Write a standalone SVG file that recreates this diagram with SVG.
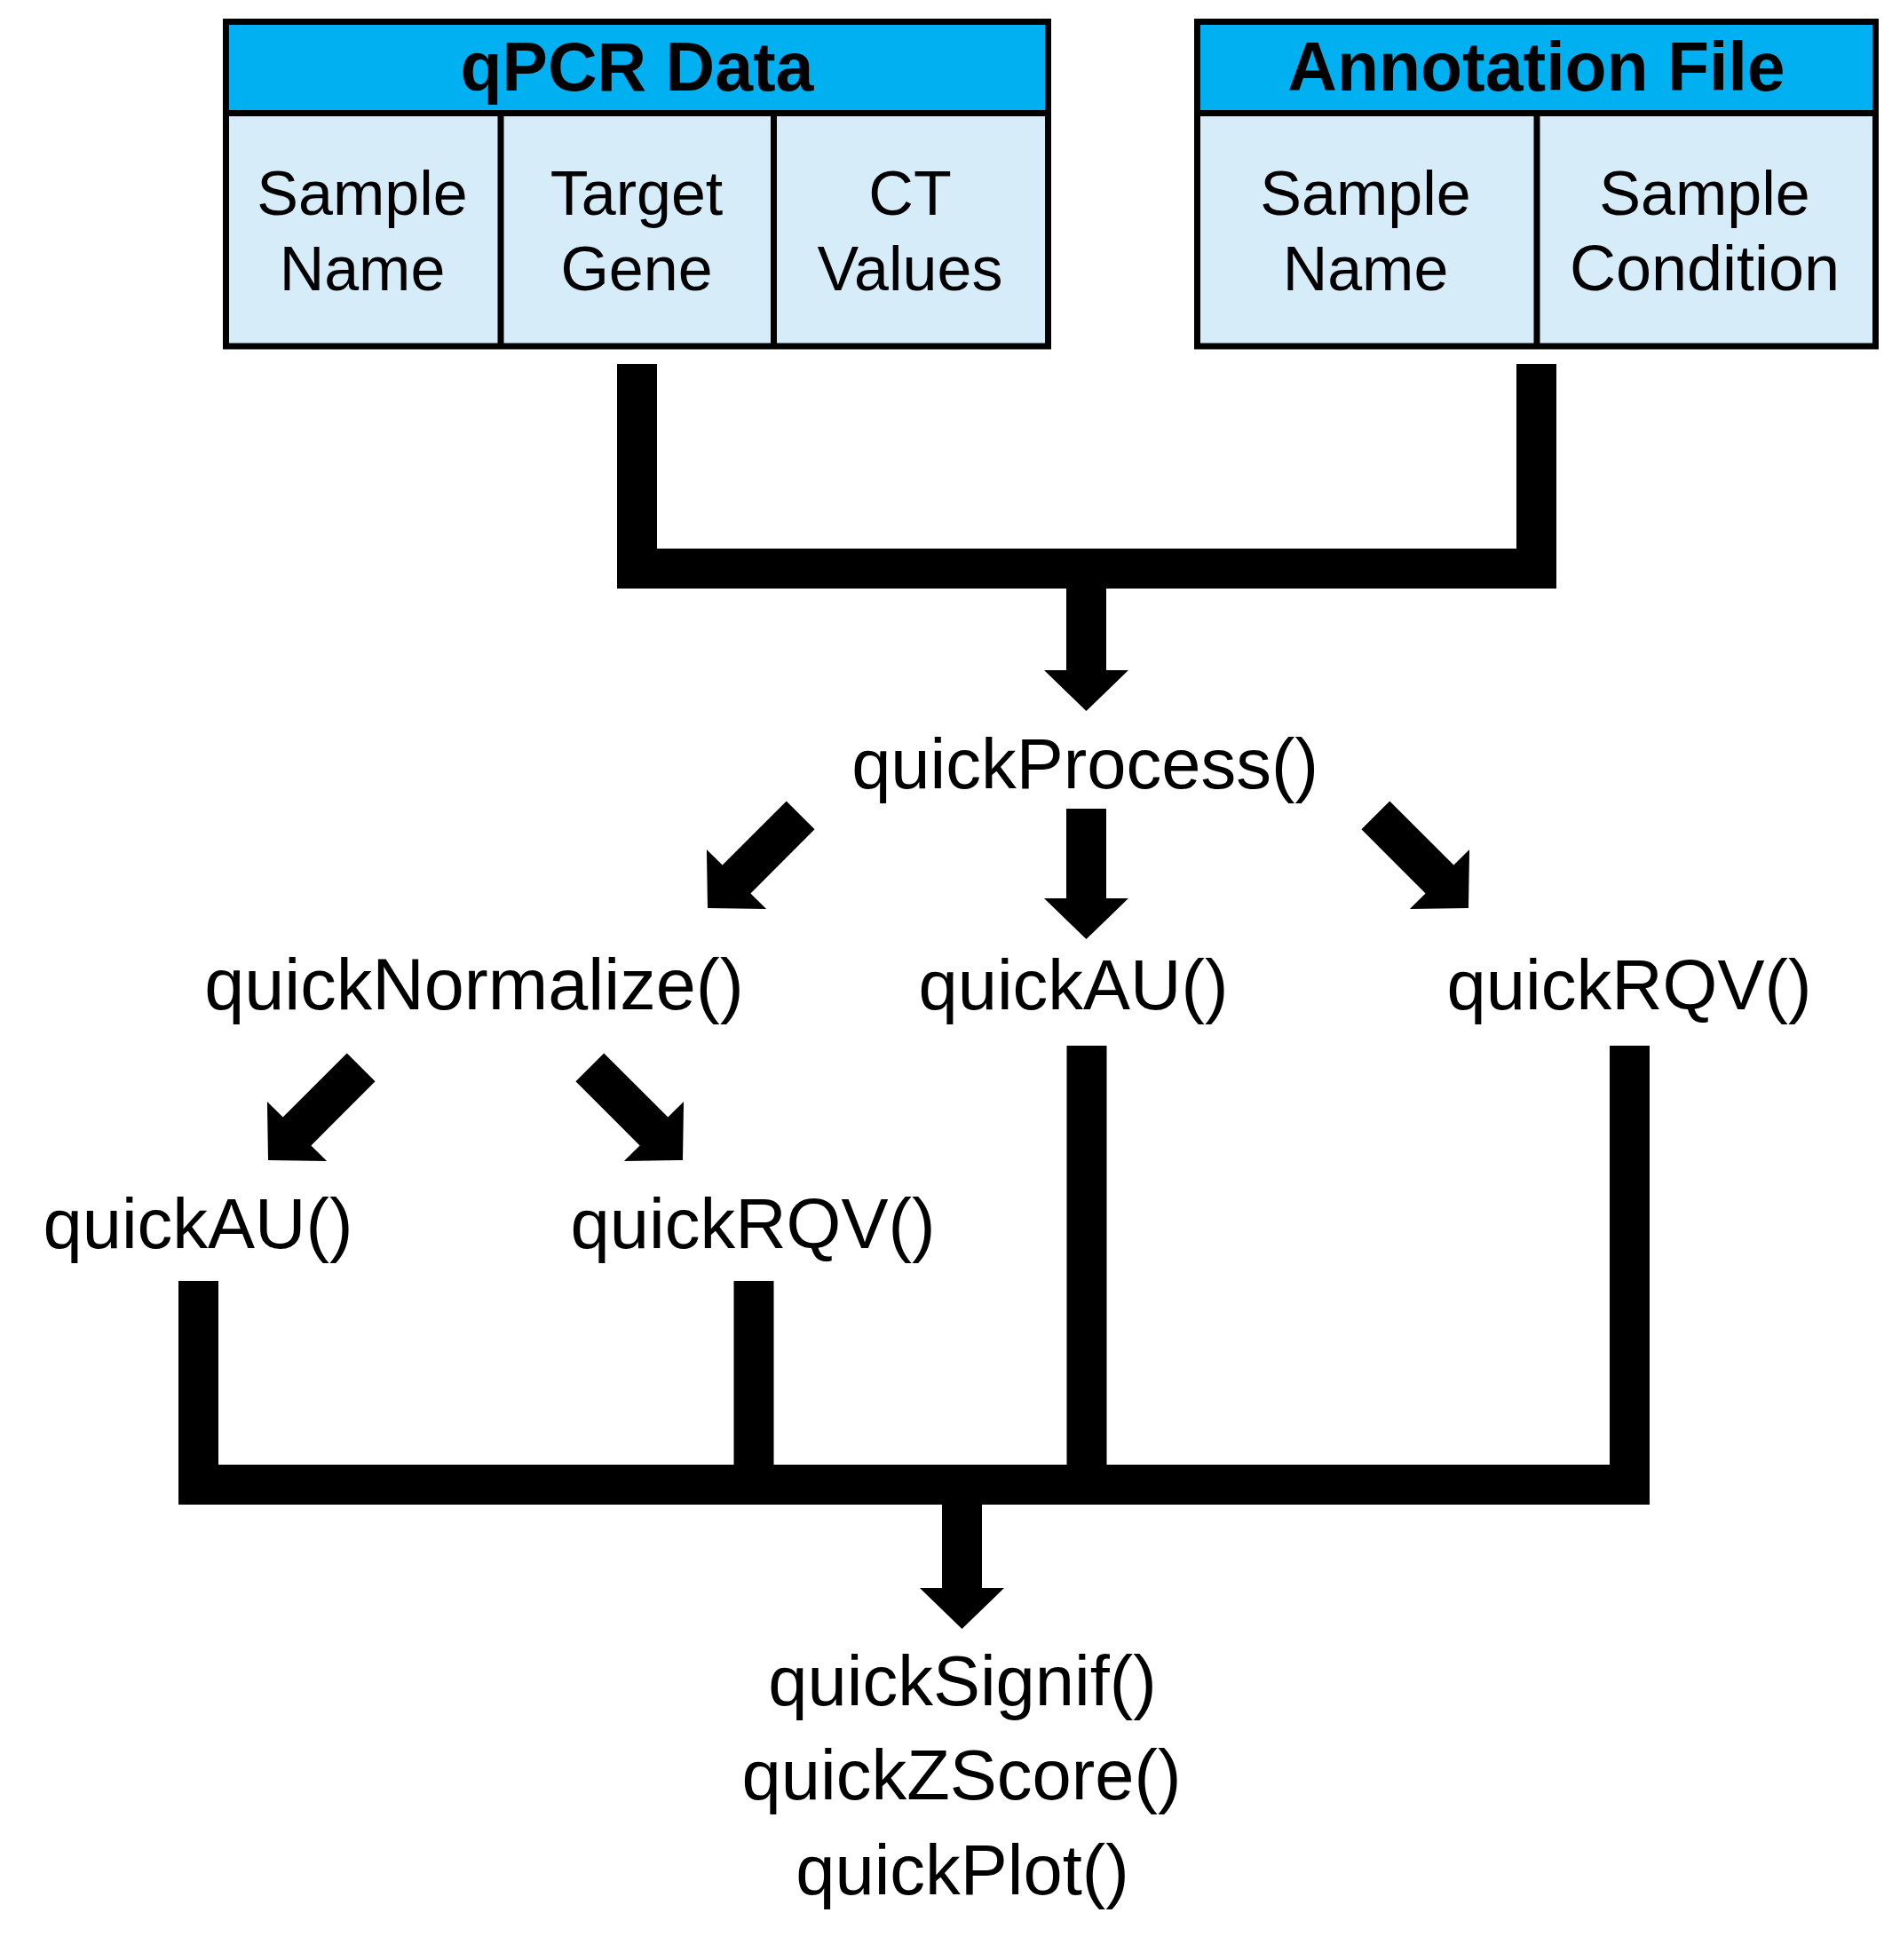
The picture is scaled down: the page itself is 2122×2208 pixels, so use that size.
<svg xmlns="http://www.w3.org/2000/svg" xmlns:xlink="http://www.w3.org/1999/xlink" width="2122" height="2208" viewBox="0 0 2122 2208">
<style>
.hdr{fill:#00B0F0;}
.cell{fill:#D6ECF8;}
.frame{fill:none;stroke:#000;stroke-width:7;}
.div{stroke:#000;stroke-width:7;}
.title{font-family:"Liberation Sans",Arial,sans-serif;font-weight:bold;font-size:77px;fill:#000;text-anchor:middle;}
.ctext{font-family:"Liberation Sans",Arial,sans-serif;font-size:70px;fill:#000;text-anchor:middle;}
.fn{font-family:"Liberation Sans",Arial,sans-serif;font-size:79.5px;fill:#000;text-anchor:middle;}
.bar{fill:none;stroke:#000;stroke-width:45;stroke-linejoin:miter;stroke-linecap:butt;}
.arr{fill:#000;}
</style>
<defs>
<path id="diag" d="M-22.5,-148 L22.5,-148 L22.5,-46 L47.5,-46 L0,0 L-47.5,-46 L-22.5,-46 Z"/>
</defs>
<rect x="0" y="0" width="2122" height="2208" fill="#fff"/>

<g id="qpcr-data">
<rect class="hdr" x="254.5" y="24.5" width="926" height="103"/>
<rect class="cell" x="254.5" y="127.5" width="926" height="262.5"/>
<line class="div" x1="254.5" y1="127.5" x2="1180.5" y2="127.5"/>
<line class="div" x1="564" y1="127.5" x2="564" y2="390"/>
<line class="div" x1="871.5" y1="127.5" x2="871.5" y2="390"/>
<rect class="frame" x="254.5" y="24.5" width="926" height="365.5"/>
<text class="title" x="717.5" y="102">qPCR Data</text>
<text class="ctext" x="408" y="242">Sample</text>
<text class="ctext" x="408" y="327">Name</text>
<text class="ctext" x="717" y="242">Target</text>
<text class="ctext" x="717" y="327">Gene</text>
<text class="ctext" x="1025" y="242">CT</text>
<text class="ctext" x="1025" y="327">Values</text>
</g>

<g id="annotation-file">
<rect class="hdr" x="1348.5" y="24.5" width="764" height="103"/>
<rect class="cell" x="1348.5" y="127.5" width="764" height="262.5"/>
<line class="div" x1="1348.5" y1="127.5" x2="2112.5" y2="127.5"/>
<line class="div" x1="1731" y1="127.5" x2="1731" y2="390"/>
<rect class="frame" x="1348.5" y="24.5" width="764" height="365.5"/>
<text class="title" x="1730.5" y="102">Annotation File</text>
<text class="ctext" x="1538" y="242">Sample</text>
<text class="ctext" x="1538" y="327">Name</text>
<text class="ctext" x="1920" y="242">Sample</text>
<text class="ctext" x="1920" y="327" style="font-size:72px">Condition</text>
</g>

<g id="quickProcess"><text class="fn" x="1222" y="888">quickProcess()</text></g>
<g id="quickNormalize"><text class="fn" x="534" y="1137" style="font-size:81px">quickNormalize()</text></g>
<g id="quickAU-main"><text class="fn" x="1209" y="1137">quickAU()</text></g>
<g id="quickRQV-main"><text class="fn" x="1835" y="1137">quickRQV()</text></g>
<g id="quickAU-norm"><text class="fn" x="223" y="1406">quickAU()</text></g>
<g id="quickRQV-norm"><text class="fn" x="848" y="1406">quickRQV()</text></g>
<g id="downstream">
<text class="fn" x="1084" y="1921">quickSignif()</text>
<text class="fn" x="1083" y="2027">quickZScore()</text>
<text class="fn" x="1084" y="2134">quickPlot()</text>
</g>

<g id="connectors">
<path class="bar" d="M717.5,410 V640.5 H1730.5 V410"/>
<path class="arr" d="M1201,640 H1246 V755 H1271 L1223.5,801 L1176,755 H1201 Z"/>
<path class="arr" d="M1201,911 H1246 V1012 H1271 L1223.5,1058 L1176,1012 H1201 Z"/>
<use xlink:href="#diag" href="#diag" class="arr" transform="translate(797,1023) rotate(45)"/>
<use xlink:href="#diag" href="#diag" class="arr" transform="translate(1654,1023) rotate(-45)"/>
<use xlink:href="#diag" href="#diag" class="arr" transform="translate(302,1307) rotate(45)"/>
<use xlink:href="#diag" href="#diag" class="arr" transform="translate(769,1307) rotate(-45)"/>
<path class="bar" d="M223.5,1443 V1672.5 H1835.5 V1178"/>
<path class="bar" d="M849,1443 V1672.5"/>
<path class="bar" d="M1224,1178 V1672.5"/>
<path class="arr" d="M1061,1672 H1106 V1789 H1131 L1083.5,1835 L1036,1789 H1061 Z"/>
</g>
</svg>
